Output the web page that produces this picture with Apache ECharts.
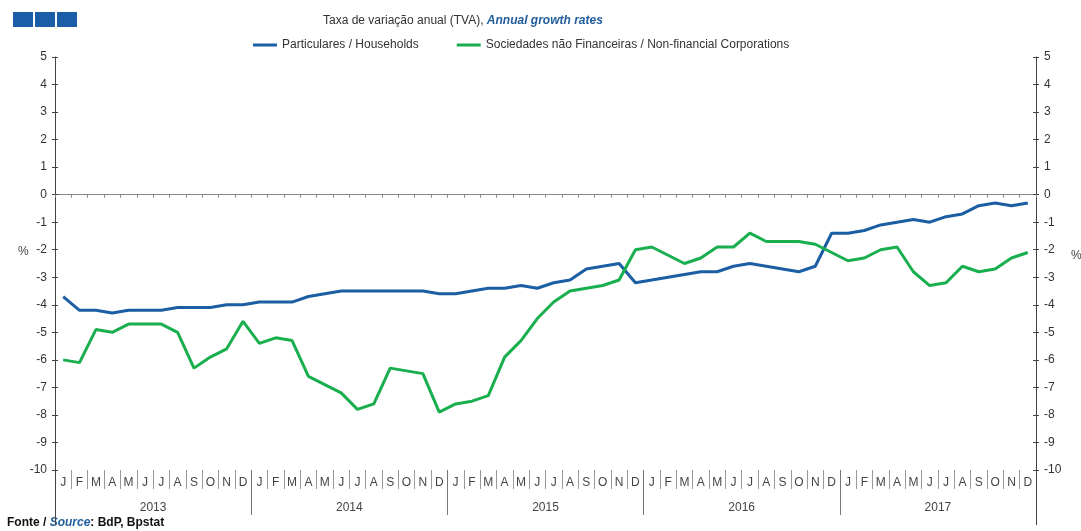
<!DOCTYPE html>
<html>
<head>
<meta charset="utf-8">
<script src="https://cdn.jsdelivr.net/npm/echarts@6/dist/echarts.min.js"></script>
<style>
  html, body { margin: 0; padding: 0; background: #fff; }
  #main { width: 1081px; height: 531px; }
</style>
</head>
<body>
<div id="main"></div>
<script>
// categorias e valores (TVA, %)
const months = [];
const monthLetters = ['J', 'F', 'M', 'A', 'M', 'J', 'J', 'A', 'S', 'O', 'N', 'D'];
const years = ['2013', '2014', '2015', '2016', '2017'];
years.forEach(y => monthLetters.forEach((m, i) => months.push(y + '-' + (i + 1))));

const households = [
  -3.7, -4.2, -4.2, -4.3, -4.2, -4.2, -4.2, -4.1, -4.1, -4.1, -4.0, -4.0,
  -3.9, -3.9, -3.9, -3.7, -3.6, -3.5, -3.5, -3.5, -3.5, -3.5, -3.5, -3.6,
  -3.6, -3.5, -3.4, -3.4, -3.3, -3.4, -3.2, -3.1, -2.7, -2.6, -2.5, -3.2,
  -3.1, -3.0, -2.9, -2.8, -2.8, -2.6, -2.5, -2.6, -2.7, -2.8, -2.6, -1.4,
  -1.4, -1.3, -1.1, -1.0, -0.9, -1.0, -0.8, -0.7, -0.4, -0.3, -0.4, -0.3
];
const corporations = [
  -6.0, -6.1, -4.9, -5.0, -4.7, -4.7, -4.7, -5.0, -6.3, -5.9, -5.6, -4.6,
  -5.4, -5.2, -5.3, -6.6, -6.9, -7.2, -7.8, -7.6, -6.3, -6.4, -6.5, -7.9,
  -7.6, -7.5, -7.3, -5.9, -5.3, -4.5, -3.9, -3.5, -3.4, -3.3, -3.1, -2.0,
  -1.9, -2.2, -2.5, -2.3, -1.9, -1.9, -1.4, -1.7, -1.7, -1.7, -1.8, -2.1,
  -2.4, -2.3, -2.0, -1.9, -2.8, -3.3, -3.2, -2.6, -2.8, -2.7, -2.3, -2.1
];

const blue = '#1b5ea3';
const green = '#19ae4e';
const font = 'Liberation Sans, Arial, sans-serif';

let chart = echarts.init(document.getElementById('main'));

function valueAxis(pos, withLabels, inside) {
  return {
    type: 'value',
    position: pos,
    min: -10,
    max: 5,
    interval: 1,
    splitLine: { show: false },
    axisLine: { show: withLabels, lineStyle: { color: '#444', width: 1 } },
    axisTick: { show: true, inside: inside, length: 3, lineStyle: { color: '#444' } },
    axisLabel: {
      show: withLabels,
      color: '#333',
      fontFamily: font,
      fontSize: 12,
      margin: 8
    }
  };
}

chart.setOption({
  backgroundColor: '#fff',
  animation: false,
  title: {
    text: '{a|Taxa de variação anual (TVA), }{b|Annual growth rates}',
    left: 318,
    top: 10,
    textStyle: {
      fontWeight: 'normal',
      rich: {
        a: { fontFamily: font, fontSize: 12, color: '#333', fontWeight: 'normal' },
        b: { fontFamily: font, fontSize: 12, color: '#1f5c9c', fontWeight: 'bold', fontStyle: 'italic' }
      }
    }
  },
  legend: {
    left: 253,
    top: 39,
    padding: 0,
    itemGap: 38,
    itemWidth: 24,
    itemHeight: 3,
    icon: 'rect',
    textStyle: { fontFamily: font, fontSize: 12, color: '#333' },
    data: ['Particulares / Households', 'Sociedades não Financeiras / Non-financial Corporations']
  },
  grid: { left: 55, right: 45, top: 57, bottom: 61, containLabel: false },
  xAxis: [
    {
      // linha do zero
      type: 'category',
      data: months,
      position: 'bottom',
      boundaryGap: true,
      axisLine: { show: true, onZero: true, onZeroAxisIndex: 0, lineStyle: { color: '#888' } },
      axisTick: { show: true, interval: 0, length: 3, lineStyle: { color: '#888' } },
      axisLabel: { show: false }
    },
    {
      // meses
      type: 'category',
      data: years.flatMap(() => monthLetters),
      position: 'bottom',
      axisLine: { show: false, onZero: false },
      axisTick: { show: true, interval: 0, length: 19, lineStyle: { color: '#999' } },
      axisLabel: { interval: 0, color: '#444', fontFamily: font, fontSize: 12, margin: 7 }
    },
    {
      // anos
      type: 'category',
      data: years,
      position: 'bottom',
      axisLine: { show: false, onZero: false },
      axisTick: { show: true, interval: 0, length: 45, lineStyle: { color: '#777' } },
      axisLabel: { interval: 0, color: '#444', fontFamily: font, fontSize: 12, margin: 32 }
    },
    {
      // prolongamento dos eixos verticais
      type: 'category',
      data: [''],
      position: 'bottom',
      axisLine: { show: false, onZero: false },
      axisTick: { show: true, length: 55, lineStyle: { color: '#444' } },
      axisLabel: { show: false }
    }
  ],
  yAxis: [
    valueAxis('left', true, false),
    valueAxis('left', false, true),
    valueAxis('right', true, false),
    valueAxis('right', false, true)
  ],
  graphic: [
    { type: 'rect', left: 13, top: 12, shape: { width: 20, height: 15 }, style: { fill: '#1a5ea8' } },
    { type: 'rect', left: 35, top: 12, shape: { width: 20, height: 15 }, style: { fill: '#1a5ea8' } },
    { type: 'rect', left: 57, top: 12, shape: { width: 20, height: 15 }, style: { fill: '#1a5ea8' } },
    { type: 'text', left: 18, top: 246, style: { text: '%', font: '12px ' + font, fill: '#444' } },
    { type: 'text', left: 1071, top: 250, style: { text: '%', font: '12px ' + font, fill: '#444' } },
    {
      type: 'text', left: 7, top: 517,
      style: {
        text: '{a|Fonte / }{b|Source}{a|: BdP, Bpstat}',
        rich: {
          a: { fontFamily: font, fontSize: 12, fontWeight: 'bold', fill: '#111' },
          b: { fontFamily: font, fontSize: 12, fontWeight: 'bold', fontStyle: 'italic', fill: '#1f5c9c' }
        }
      }
    }
  ],
  series: [
    {
      name: 'Particulares / Households',
      type: 'line',
      xAxisIndex: 0,
      yAxisIndex: 0,
      data: households,
      symbol: 'none',
      lineStyle: { color: blue, width: 3 },
      itemStyle: { color: blue }
    },
    {
      name: 'Sociedades não Financeiras / Non-financial Corporations',
      type: 'line',
      xAxisIndex: 0,
      yAxisIndex: 0,
      data: corporations,
      symbol: 'none',
      lineStyle: { color: green, width: 3 },
      itemStyle: { color: green }
    }
  ]
});

window.addEventListener('resize', function () {
  chart.resize();
});
</script>
</body>
</html>
